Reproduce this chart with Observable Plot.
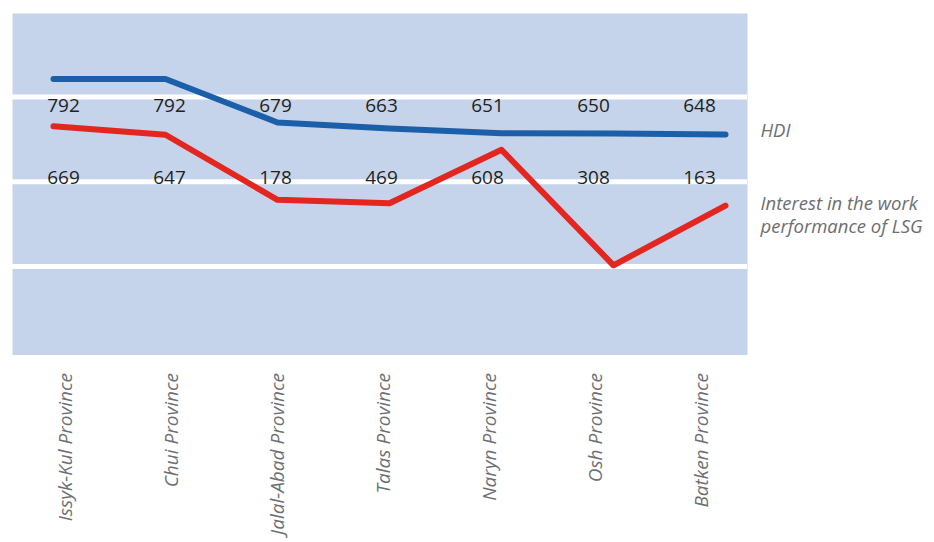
<!DOCTYPE html>
<html>
<head>
<meta charset="utf-8">
<script src="https://cdn.jsdelivr.net/npm/d3@7"></script>
<script src="https://cdn.jsdelivr.net/npm/@observablehq/plot@0.6"></script>
<style>
  html, body { margin: 0; padding: 0; background: #ffffff; }
  #chart { position: relative; width: 934px; height: 542px; }
  #chart svg { position: absolute; top: 0; left: 0; }
</style>
</head>
<body>
<div id="chart"></div>
<script>
// Provinces of Kyrgyzstan
const categories = [
  "Issyk-Kul Province", "Chui Province", "Jalal-Abad Province", "Talas Province",
  "Naryn Province", "Osh Province", "Batken Province"
];
// Human Development Index (x1000)
const hdi = [792, 792, 679, 663, 651, 650, 648];
// Interest in the work performance of local self-government (same scale)
const interest = [669, 647, 478, 469, 608, 308, 463];
// Figures as printed under the HDI row
const interestPrinted = ["669", "647", "178", "469", "608", "308", "163"];
// Series names
const seriesNames = ["HDI", "Interest in the work", "performance of LSG"];
// Horizontal guide lines
const gridTicks = [305, 525, 745];

const rows = categories.map((province, i) => ({
  province, hdi: hdi[i], interest: interest[i], printed: interestPrinted[i]
}));
const last = rows[rows.length - 1];

const W = 934, H = 542;
const margins = { marginTop: 13, marginBottom: 187.5, marginLeft: 12, marginRight: 187 };
const yScale = { domain: [75, 962], axis: null };
const font = "'Open Sans', 'Noto Sans', sans-serif";

// Background panel, guides, value rows and province axis
const base = Plot.plot({
  width: W, height: H, ...margins,
  x: { type: "point", domain: categories, range: [62, 703], padding: 0 },
  y: yScale,
  style: { fontFamily: font, background: "transparent", color: "#6d6e71", overflow: "visible" },
  marks: [
    Plot.frame({ fill: "#c5d4eb", stroke: null }),
    Plot.ruleY(gridTicks, { stroke: "#ffffff", strokeWidth: 5 }),
    Plot.text(rows, {
      x: "province", text: d => String(d.hdi), frameAnchor: "top", dy: 85, dx: -2,
      fontSize: 19, fill: "#231f20"
    }),
    Plot.text(rows, {
      x: "province", text: "printed", frameAnchor: "top", dy: 157, dx: -2,
      fontSize: 19, fill: "#231f20"
    }),
    Plot.axisX({
      tickRotate: -90, tickSize: 0, tickPadding: 18, label: null,
      fontSize: 19, fontStyle: "italic", fill: "#6d6e71"
    })
  ]
});

// Series lines with their names
const nameStyle = { textAnchor: "start", dx: 35, fontSize: 18.5, fontStyle: "italic", fill: "#6d6e71" };
const lines = Plot.plot({
  width: W, height: H, ...margins,
  x: { type: "point", domain: categories, range: [53, 725], padding: 0, axis: null },
  y: yScale,
  style: { fontFamily: font, background: "transparent", overflow: "visible" },
  marks: [
    Plot.line(rows, {
      x: "province", y: "hdi", stroke: "#1b5fa9", strokeWidth: 6,
      strokeLinejoin: "round", strokeLinecap: "round"
    }),
    Plot.line(rows, {
      x: "province", y: "interest", stroke: "#e3261f", strokeWidth: 6,
      strokeLinejoin: "round", strokeLinecap: "round"
    }),
    Plot.text([last], { x: "province", y: "hdi", text: () => seriesNames[0], dy: -3, ...nameStyle }),
    Plot.text([last], { x: "province", y: "interest", text: () => seriesNames[1], dy: -2, ...nameStyle }),
    Plot.text([last], { x: "province", y: "interest", text: () => seriesNames[2], dy: 21, ...nameStyle })
  ]
});

const chart = document.getElementById("chart");
chart.appendChild(base);
chart.appendChild(lines);
</script>
</body>
</html>
